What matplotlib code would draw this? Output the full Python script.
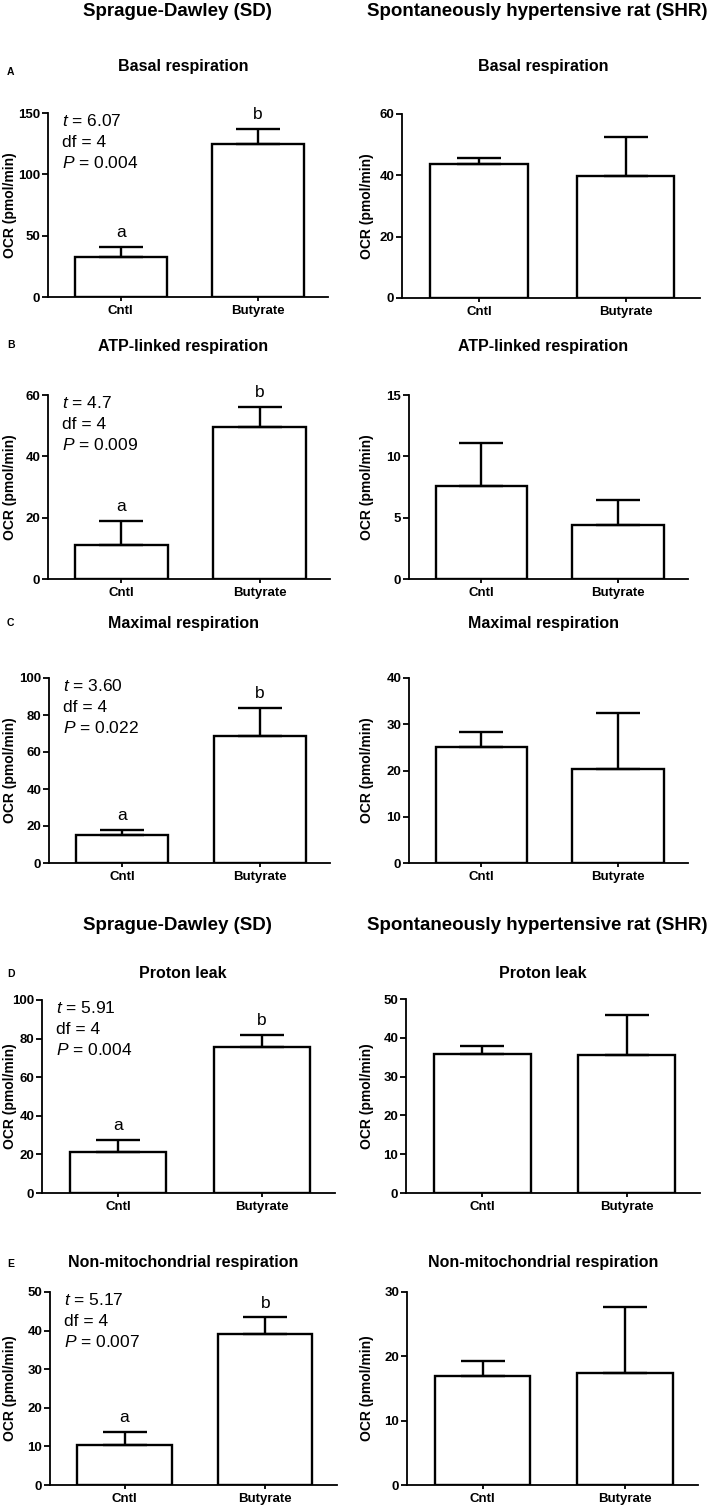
import numpy as np
import matplotlib
matplotlib.use('Agg')
import matplotlib.pyplot as plt

plt.rcParams['font.family'] = ['Liberation Sans', 'DejaVu Sans']
plt.rcParams['mathtext.fontset'] = 'custom'
plt.rcParams['mathtext.rm'] = 'Liberation Sans'
plt.rcParams['mathtext.it'] = 'Liberation Sans:italic'

# data
panel_letters = ['A', 'B', 'C', 'D', 'E']
titles = ['Basal respiration', 'ATP-linked respiration', 'Maximal respiration',
          'Proton leak', 'Non-mitochondrial respiration']
groups = ['Cntl', 'Butyrate']

sd_mean = [[32.6, 124.7], [11.0, 49.5], [15.4, 68.7], [21.0, 75.5], [10.3, 39.0]]
sd_sem = [[8.2, 12.3], [7.9, 6.6], [2.2, 14.9], [6.6, 6.6], [3.4, 4.4]]
shr_mean = [[43.7, 39.8], [7.6, 4.4], [25.0, 20.4], [35.9, 35.5], [17.0, 17.4]]
shr_sem = [[2.0, 12.7], [3.5, 2.0], [3.4, 12.1], [1.9, 10.4], [2.35, 10.2]]

sd_ymax = [150, 60, 100, 100, 50]
sd_step = [50, 20, 20, 20, 10]
shr_ymax = [60, 15, 40, 50, 30]
shr_step = [20, 5, 10, 10, 10]

t_vals = ['6.07', '4.7', '3.60', '5.91', '5.17']
df_vals = [4, 4, 4, 4, 4]
p_vals = ['0.004', '0.009', '0.022', '0.004', '0.007']
sig_letters = ['a', 'b']

W, H = 709, 1509

# axes boxes in pixels: left, right, top, bottom
sd_boxes = [(48, 328, 113, 297), (48, 330, 395, 579), (49, 330, 678, 863),
            (42, 335, 1000, 1193), (50, 337, 1292, 1485)]
shr_boxes = [(402, 700, 114, 298), (409, 688, 395, 579), (409, 688, 678, 863),
             (406, 700, 999, 1193), (407, 698, 1292, 1485)]
title_y = [66, 347, 624, 973, 1263]
letter_y = [72, 345, 623, 974, 1264]


def px_box(l, r, t, b):
    return [l / W, 1 - b / H, (r - l) / W, (b - t) / H]


def draw_panel(box, means, sems, ymax, step, stats=None):
    ax = fig.add_axes(px_box(*box))
    x = np.arange(len(groups))
    ax.bar(x, means, width=0.67, color='white', edgecolor='black',
           linewidth=1.7, zorder=2)
    ax.errorbar(x, means, yerr=[np.zeros(len(x)), sems], fmt='none',
                ecolor='black', elinewidth=1.7, capsize=16, capthick=1.7, zorder=3)
    ax.set_xlim(-0.53, 1.51)
    ax.set_ylim(0, ymax)
    ax.set_yticks(np.arange(0, ymax + step / 2, step))
    ax.set_xticks(x)
    ax.set_xticklabels(groups)
    for s in ['top', 'right']:
        ax.spines[s].set_visible(False)
    for s in ['left', 'bottom']:
        ax.spines[s].set_linewidth(1.3)
    ax.tick_params(axis='y', length=4.5, width=1.3, pad=1, labelsize=9.5)
    ax.tick_params(axis='x', length=3, width=1.3, pad=3, labelsize=9.5)
    for lab in ax.get_xticklabels() + ax.get_yticklabels():
        lab.set_fontweight('bold')
    cx = 10 if box[0] < 200 else 367
    fig.text(cx / W, 1 - (box[2] + box[3]) / 2 / H, 'OCR (pmol/min)',
             rotation=90, ha='center', va='center', fontsize=10, fontweight='bold')
    if stats is not None:
        lines = [r'$\mathit{t}$ = ' + stats[0], 'df = %d' % stats[1],
                 r'$\mathit{P}$ = ' + stats[2]]
        for k, line in enumerate(lines):
            ax.annotate(line, xy=(0, 1), xycoords='axes fraction',
                        xytext=(10, -6 - 15 * k), textcoords='offset points',
                        ha='left', va='center', fontsize=12.5)
        for i in range(len(x)):
            ax.annotate(sig_letters[i], xy=(x[i], means[i] + sems[i]),
                        xytext=(0, 5), textcoords='offset points',
                        ha='center', va='bottom', fontsize=12.5)
    return ax


fig = plt.figure(figsize=(W / 100, H / 100), dpi=100)

for i in range(5):
    draw_panel(sd_boxes[i], sd_mean[i], sd_sem[i], sd_ymax[i], sd_step[i],
               stats=(t_vals[i], df_vals[i], p_vals[i]))
    draw_panel(shr_boxes[i], shr_mean[i], shr_sem[i], shr_ymax[i], shr_step[i])
    fig.text(183 / W, 1 - title_y[i] / H, titles[i], ha='center', va='center',
             fontsize=11.5, fontweight='bold')
    fig.text(543 / W, 1 - title_y[i] / H, titles[i], ha='center', va='center',
             fontsize=11.5, fontweight='bold')
    fig.text(7 / W, 1 - letter_y[i] / H, panel_letters[i], ha='left', va='center',
             fontsize=7.5, fontweight='bold')

# row headers, placed by baseline
for hy in [16, 930]:
    fig.text(177 / W, 1 - hy / H, 'Sprague-Dawley (SD)', ha='center', va='baseline',
             fontsize=13.5, fontweight='bold')
    fig.text(537 / W, 1 - hy / H, 'Spontaneously hypertensive rat (SHR)',
             ha='center', va='baseline', fontsize=13.5, fontweight='bold')

fig.savefig('out.png', dpi=100)
